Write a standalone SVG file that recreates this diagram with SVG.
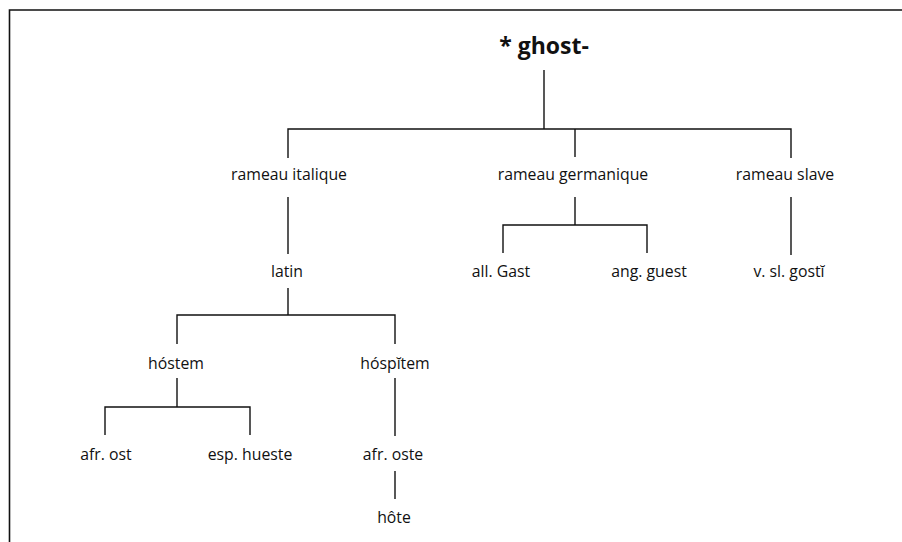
<svg xmlns="http://www.w3.org/2000/svg" width="902" height="542" viewBox="0 0 902 542">
<style>
.t{font-family:"Open Sans","Noto Sans","Liberation Sans",sans-serif;font-size:15.8px;fill:#111;text-anchor:middle}
.h{font-family:"Open Sans","Noto Sans","Liberation Sans",sans-serif;font-size:23px;font-weight:bold;fill:#111;text-anchor:middle}
.c line,.c path{stroke:#111;stroke-width:1.4;fill:none}
</style>
<rect width="902" height="542" fill="#fff"/>
<path d="M9.5 542 V10 H902" stroke="#111" stroke-width="1.6" fill="none"/>
<g class="c" id="connectors">
<line x1="544" y1="70" x2="544" y2="129"/>
<path d="M288 158 V129 H791 V158"/>
<line x1="575" y1="129" x2="575" y2="157"/>
<line x1="288" y1="197" x2="288" y2="254"/>
<line x1="575" y1="197" x2="575" y2="225"/>
<path d="M503 253 V225 H647 V253"/>
<line x1="791" y1="197" x2="791" y2="255"/>
<line x1="288" y1="288" x2="288" y2="315"/>
<path d="M177 344 V315 H395 V344"/>
<line x1="177" y1="378" x2="177" y2="407"/>
<path d="M105 435 V407 H250 V435"/>
<line x1="395" y1="378" x2="395" y2="436"/>
<line x1="395" y1="471" x2="395" y2="499"/>
</g>
<g id="ghost"><text class="h" x="544" y="54">* ghost-</text></g>
<g id="italique"><text class="t" x="289" y="180">rameau italique</text></g>
<g id="germanique"><text class="t" x="573" y="180">rameau germanique</text></g>
<g id="slave"><text class="t" x="785" y="180">rameau slave</text></g>
<g id="latin"><text class="t" x="287" y="277">latin</text></g>
<g id="gast"><text class="t" x="501" y="277">all. Gast</text></g>
<g id="guest"><text class="t" x="649" y="277">ang. guest</text></g>
<g id="gosti"><text class="t" x="789" y="277">v. sl. gostĭ</text></g>
<g id="hostem"><text class="t" x="176" y="369">hóstem</text></g>
<g id="hospitem"><text class="t" x="395" y="369">hóspĭtem</text></g>
<g id="ost"><text class="t" x="106" y="460">afr. ost</text></g>
<g id="hueste"><text class="t" x="250" y="460">esp. hueste</text></g>
<g id="oste"><text class="t" x="393" y="460">afr. oste</text></g>
<g id="hote"><text class="t" x="394" y="523">hôte</text></g>
</svg>
